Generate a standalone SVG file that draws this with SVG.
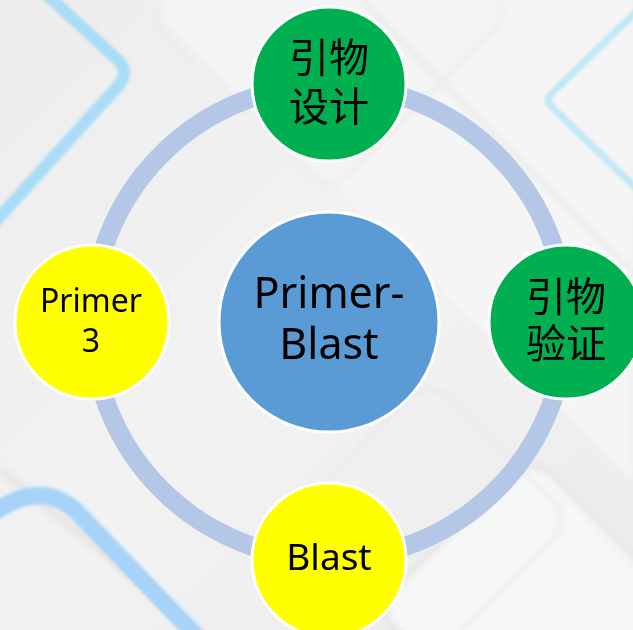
<svg xmlns="http://www.w3.org/2000/svg" width="633" height="630" viewBox="0 0 633 630">
<defs>
<linearGradient id="bg" x1="0" y1="0" x2="1" y2="1">
<stop offset="0" stop-color="#EDEDED"/>
<stop offset="0.5" stop-color="#F2F2F2"/>
<stop offset="1" stop-color="#ECECEC"/>
</linearGradient>
<filter id="blur" x="-10%" y="-10%" width="120%" height="120%"><feGaussianBlur stdDeviation="1.5"/></filter>
<filter id="soft" x="-10%" y="-10%" width="120%" height="120%"><feGaussianBlur stdDeviation="3"/></filter>
<style>
.ring{fill:none;stroke:#B4C7E7;stroke-width:19}
.node{stroke:#FFFFFF;stroke-width:3}
.green{fill:#00B050}
.yellow{fill:#FFFF00}
.blue{fill:#5B9BD5}
.lat{font-family:"Noto Sans","Open Sans","Liberation Sans",sans-serif;fill:#000;text-anchor:middle}
.cjk{font-family:"Noto Sans CJK SC","Noto Sans",sans-serif;fill:#000;text-anchor:middle;font-size:40px}
.bl{fill:none;stroke-linecap:round;stroke-linejoin:round}
</style>
</defs>
<g id="background">
<rect width="633" height="630" fill="url(#bg)"/>
<g filter="url(#soft)" opacity="0.9">
<path d="M150 0 L633 483 L633 0 Z" fill="#F5F5F5"/>
<rect x="200" y="-120" width="260" height="260" rx="30" transform="rotate(45 330 10)" fill="#F4F4F4" stroke="#E2E2E2" stroke-width="2"/>
<rect x="420" y="500" width="220" height="220" rx="30" transform="rotate(45 530 610)" fill="#F6F8F8" stroke="#D8D8D8" stroke-width="3"/>
<rect x="330" y="420" width="200" height="200" rx="25" transform="rotate(45 430 520)" fill="none" stroke="#E0E0E0" stroke-width="2"/>
<path d="M0 470 L200 630" stroke="#E4E4E4" stroke-width="8"/>
<path d="M360 0 L633 273" stroke="#E4E4E4" stroke-width="3"/>
</g>
<g filter="url(#blur)">
<path class="bl" d="M47 -5 L118 60 Q130 72 118 86 L-5 222" stroke="#A9DCF6" stroke-width="12"/>
<path class="bl" d="M640 8 L552 93 Q545 100 552 107 L640 192" stroke="#BFE7F8" stroke-width="7"/>
<path class="bl" d="M-5 512 Q40 480 75 510 L200 640" stroke="#A6D3F7" stroke-width="17"/>
</g>
</g>
<g id="connectors">
<circle class="ring" cx="329" cy="322" r="237"/>
</g>
<g id="center">
<circle class="node blue" cx="329" cy="322" r="110"/>
<text class="lat" x="329" y="308" font-size="43">Primer-</text>
<text class="lat" x="329" y="359" font-size="43">Blast</text>
</g>
<g id="top">
<circle class="node green" cx="329" cy="84" r="77"/>
<text class="cjk" x="329" y="72">引物</text>
<text class="cjk" x="329" y="121">设计</text>
</g>
<g id="right">
<circle class="node green" cx="566" cy="322" r="77"/>
<text class="cjk" x="566" y="311">引物</text>
<text class="cjk" x="566" y="358">验证</text>
</g>
<g id="bottom">
<circle class="node yellow" cx="329" cy="560" r="77"/>
<text class="lat" x="329" y="570" font-size="37">Blast</text>
</g>
<g id="left">
<circle class="node yellow" cx="92" cy="322" r="77"/>
<text class="lat" x="91" y="312" font-size="32">Primer</text>
<text class="lat" x="91" y="352" font-size="32">3</text>
</g>
</svg>
